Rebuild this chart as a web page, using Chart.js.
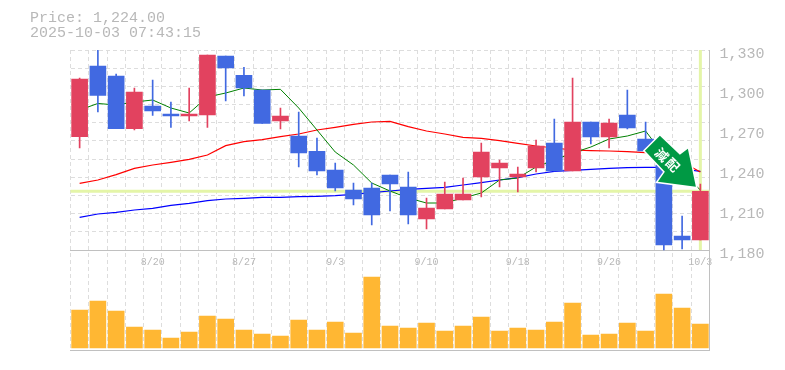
<!DOCTYPE html>
<html>
<head>
<meta charset="utf-8">
<script src="https://cdn.jsdelivr.net/npm/chart.js@4"></script>
<style>
  html, body { margin: 0; background: #fff; }
  #wrap { position: relative; width: 785px; height: 370px; overflow: hidden; }
  #head { position: absolute; left: 30px; top: 11px; font: 15px/15px "Liberation Mono", monospace; color: #b8b8b8; white-space: pre; }
  canvas { display: block; }
</style>
</head>
<body>
<div id="wrap">
  <div id="head">Price: 1,224.00
2025-10-03 07:43:15</div>
  <canvas id="myChart" width="785" height="370"></canvas>
</div>
<script>
var dates = ['8/14','8/15','8/18','8/19','8/20','8/21','8/22','8/25','8/26','8/27','8/28','8/29','9/1','9/2','9/3','9/4','9/5','9/8','9/9','9/10','9/11','9/12','9/16','9/17','9/18','9/19','9/22','9/24','9/25','9/26','9/29','9/30','10/1','10/2','10/3'];
var open  = [1265,1318,1310.5,1271,1288,1282,1280.5,1281.25,1325.5,1311,1300,1276.75,1265.5,1254,1240,1225,1226.5,1236.25,1227.25,1203.25,1210.75,1217.5,1234.75,1241.5,1234.75,1241.5,1260.25,1239.25,1276,1264.75,1281.25,1263.25,1243.75,1190.5,1187.5];
var close = [1308.25,1296,1271,1298.5,1284.25,1280.5,1282,1326.25,1316.5,1301.5,1275,1280.5,1252.75,1239.25,1226.5,1218.25,1206.25,1229.5,1206.25,1211.5,1222,1222,1253.5,1245.25,1237,1258,1239.25,1276,1264.75,1275.25,1271.5,1254.25,1183.75,1187.5,1224];
var high  = [1309,1330,1312,1301.5,1307.5,1291,1301.5,1326.25,1325.5,1317,1300,1286.5,1283.5,1264,1245.25,1230.25,1230.25,1236.25,1238.5,1219,1231,1234,1260.25,1247.5,1242.25,1262.5,1278.25,1309,1276,1278.25,1300,1276,1243.75,1205.5,1229.5];
var low   = [1256.5,1283.5,1271,1270,1281,1272,1276.75,1272,1291.75,1295.5,1275,1270.75,1242.25,1236.25,1224.25,1213.75,1198.75,1209.25,1199.5,1195.75,1210.75,1217.5,1219.75,1227.25,1223.5,1238.5,1239.25,1239.25,1259.5,1256.5,1270.75,1254,1180,1180.75,1187.5];
var ma5   = [1285,1289.9,1288.75,1291,1292.5,1286.5,1282.75,1294.75,1297.75,1301.5,1300,1300.5,1286.5,1270,1253.5,1243.75,1230.25,1224.25,1219,1215.25,1215.25,1219,1222.75,1232.5,1234,1242.25,1247.5,1252.75,1257.25,1263.25,1265.5,1269.25,1251.25,1238.5,1225];
var ma25  = [1230,1232.5,1236.5,1241.25,1243.75,1245.75,1248,1251.25,1258.25,1261.25,1262.75,1265,1267,1270,1272,1274.25,1276,1276.5,1272.5,1269.25,1267,1264.5,1263.75,1262,1260,1258,1256.5,1255,1254.5,1254.25,1253.75,1253,1250.5,1246,1238.5];
var ma75  = [1204.5,1207,1208.25,1210,1211.25,1213.5,1215,1217,1218.25,1218.75,1219.5,1219.5,1220,1220.25,1220.75,1221.75,1223,1224.25,1225.5,1226.25,1227,1228.75,1230.5,1232.5,1234.25,1237,1239,1239.75,1240.5,1241.25,1241.75,1242,1241.9,1240.75,1239];
var volume = [38,47,37,21,18,10,16,32,29,18,14,12,28,18,26,15,71,22,20,25,17,22,31,17,20,18,26,45,13,14,25,17,54,40,24];
var priceTicks = [1180,1210,1240,1270,1300,1330];
var gridTicks = [0,1,2,3,4,5,6,7,8,9,10,11];
var lastPrice = 1224;

var UP = '#e2425f', DOWN = '#4169e1', TEXT = '#b8b8b8', AXIS = '#c0c0c0', GRID = '#dddddd', MARK = '#e4f5a8';
var candleColors = close.map((c, i) => c >= open[i] ? UP : DOWN);

// yellow cross on the last price, sits under the candles
var crossPlugin = {
  id: 'cross',
  beforeDatasetsDraw(chart) {
    var c = chart.ctx, a = chart.chartArea, y = chart.scales.y, x = chart.scales.x;
    var py = y.getPixelForValue(lastPrice), px = x.getPixelForValue(dates.length - 1);
    c.save();
    c.strokeStyle = MARK;
    c.lineWidth = 3;
    c.beginPath();
    c.moveTo(a.left, py); c.lineTo(a.right, py);
    c.moveTo(px, a.top); c.lineTo(px, y.getPixelForValue(1180));
    c.stroke();
    c.restore();
  }
};

// green signal arrow pointing at the last candle
var arrowPlugin = {
  id: 'signalArrow',
  afterDatasetsDraw(chart) {
    var c = chart.ctx;
    var tx = chart.scales.x.getPixelForValue(dates.length - 1) - 4.5;
    var ty = chart.scales.y.getPixelForValue(lastPrice) - 4.5;
    var pts = [[-36,-51],[-16,-32],[-8,-38],[0,0],[-38,-5],[-31,-15],[-51,-36]];
    c.save();
    c.translate(tx, ty);
    c.beginPath();
    pts.forEach((p, i) => i ? c.lineTo(p[0], p[1]) : c.moveTo(p[0], p[1]));
    c.closePath();
    c.lineJoin = 'miter';
    c.strokeStyle = '#fff';
    c.lineWidth = 3;
    c.stroke();
    c.fillStyle = '#009944';
    c.fill();
    c.fillStyle = '#fff';
    c.font = 'bold 13px "Noto Sans CJK JP"';
    c.textAlign = 'center';
    c.textBaseline = 'middle';
    [['減', -34, -32], ['配', -23, -22]].forEach(t => {
      c.save();
      c.translate(t[1], t[2]);
      c.rotate(Math.PI / 4);
      c.fillText(t[0], 0, 0);
      c.restore();
    });
    c.restore();
  }
};

var ctx = document.getElementById('myChart').getContext('2d');
var myChart = new Chart(ctx, {
  data: {
    labels: dates,
    datasets: [
      { type: 'line', data: ma5, yAxisID: 'y', borderColor: '#008000', borderWidth: 1, pointRadius: 0, tension: 0, order: 3 },
      { type: 'line', data: ma25, yAxisID: 'y', borderColor: '#ff0000', borderWidth: 1.2, pointRadius: 0, tension: 0, order: 3 },
      { type: 'line', data: ma75, yAxisID: 'y', borderColor: '#0000ff', borderWidth: 1.2, pointRadius: 0, tension: 0, order: 3 },
      { type: 'bar', data: low.map((l, i) => [l, high[i]]), yAxisID: 'y', backgroundColor: candleColors, barThickness: 1, grouped: false, order: 2 },
      { type: 'bar', data: open.map((o, i) => [Math.min(o, close[i]), Math.max(o, close[i])]), yAxisID: 'y', backgroundColor: candleColors, barThickness: 16, grouped: false, order: 1 },
      { type: 'bar', data: volume, yAxisID: 'vol', backgroundColor: '#ffb733', barThickness: 16, grouped: false, order: 1 }
    ]
  },
  options: {
    responsive: false,
    animation: false,
    layout: { padding: { left: 70.5, top: 50, right: 0, bottom: 20 } },
    plugins: { legend: { display: false }, tooltip: { enabled: false } },
    scales: {
      x: {
        type: 'category',
        position: { y: 1180 },
        offset: true,
        grid: { color: GRID, drawTicks: false, offset: true },
        border: { color: AXIS, dash: [4, 3], width: 1 },
        ticks: {
          autoSkip: false, maxRotation: 0, padding: 6, color: TEXT,
          font: { family: '"Liberation Mono"', size: 10 },
          callback: function (v, i) { return i % 5 == 4 ? dates[i] : ''; }
        }
      },
      xb: {
        type: 'category',
        position: 'bottom',
        afterFit: s => { s.height = 0; },
        grid: { display: false },
        border: { color: AXIS, width: 1 },
        ticks: { display: false }
      },
      y: {
        position: 'right', min: 1105, max: 1330,
        afterBuildTicks: s => { s.ticks = priceTicks.map(v => ({ value: v })); },
        afterFit: s => { s.width = 75.5; },
        grid: { display: false, drawTicks: false },
        border: { color: AXIS, width: 1 },
        ticks: {
          color: TEXT, padding: 10, labelOffset: 4,
          font: { family: '"Liberation Mono"', size: 15 },
          callback: v => v.toLocaleString('en-US')
        }
      },
      hgrid: {
        position: 'left', reverse: true, min: 0, max: 16.5,
        afterBuildTicks: s => { s.ticks = gridTicks.map(v => ({ value: v })); },
        afterFit: s => { s.width = 0; },
        grid: { color: GRID, drawTicks: false },
        border: { display: false, dash: [4, 3] },
        ticks: { display: false }
      },
      // 100px panel at the bottom of the 300px chart area
      vol: { display: false, min: -2, max: 298 }
    }
  },
  plugins: [crossPlugin, arrowPlugin]
});
</script>
</body>
</html>
